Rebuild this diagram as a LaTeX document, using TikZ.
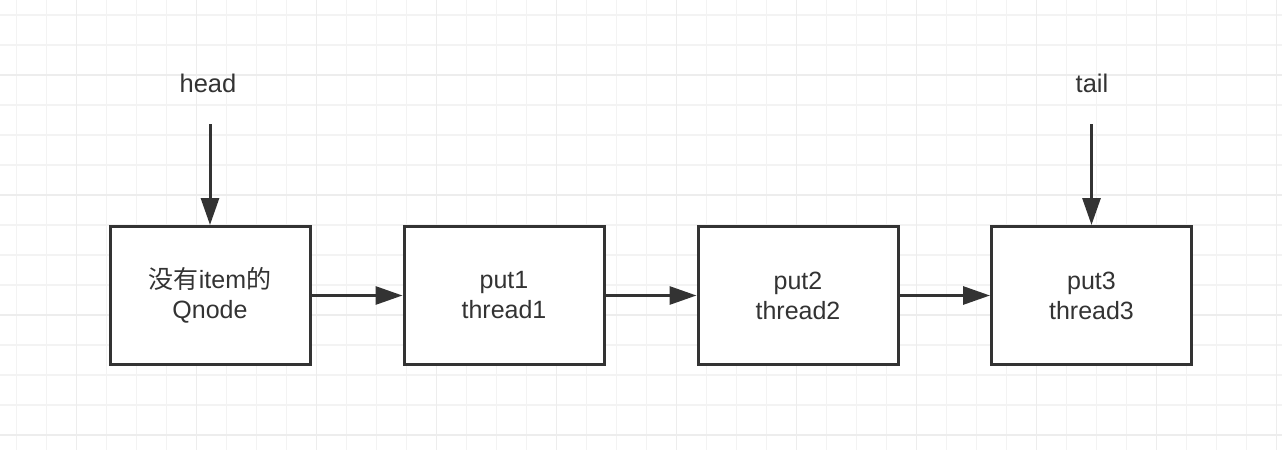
\documentclass[tikz,border=0pt]{standalone}
\usepackage{fontspec}
\setmainfont{Liberation Sans}
\newfontfamily\cjk{Noto Sans CJK SC}
\usetikzlibrary{arrows.meta}
\definecolor{ink}{HTML}{333333}
\definecolor{gminor}{HTML}{F3F3F3}
\definecolor{gmajor}{HTML}{EDEDED}
\tikzset{
  minorgrid/.style={draw=gminor, line width=1.2pt},
  majorgrid/.style={draw=gmajor, line width=1.4pt},
  qbox/.style={draw=ink, line width=3pt, fill=white, minimum width=200pt, minimum height=138pt, align=center, text=ink, font=\fontsize{25}{30}\selectfont},
  lbl/.style={text=ink, font=\fontsize{25.5}{28}\selectfont},
  arr/.style={draw=ink, line width=3pt, -{Triangle[length=27pt,width=18pt]}}
}
\begin{document}
\begin{tikzpicture}[x=1pt,y=-1pt]
\fill[white] (0,0) rectangle (1282,450);
\useasboundingbox (0,0) rectangle (1282,450);
\foreach \i in {0,...,42} \draw[minorgrid] ({16.7+30*\i},0) -- ++(0,450);
\foreach \i in {0,...,14} \draw[minorgrid] (0,{15+30*\i}) -- ++(1282,0);
\foreach \i in {0,...,10} \draw[majorgrid] ({76.7+120*\i},0) -- ++(0,450);
\foreach \i in {0,...,3} \draw[majorgrid] (0,{75+120*\i}) -- ++(1282,0);

\node[qbox] (b1) at (210,295.5) {{\cjk 没有}item{\cjk 的}\\Qnode};
\node[qbox] (b2) at (504,295.5) {put1\\thread1};
\node[qbox] (b3) at (798,295.5) {put2\\thread2};
\node[qbox] (b4) at (1091.5,295.5) {put3\\thread3};

\node[lbl] (head) at (208,83) {head};
\node[lbl] (tail) at (1092,83) {tail};
\coordinate (hs) at (210,124);
\coordinate (ts) at (1091.5,124);

\draw[arr] (hs) -- (b1.north);
\draw[arr] (ts) -- (b4.north);
\draw[arr] (b1.east) -- (b2.west);
\draw[arr] (b2.east) -- (b3.west);
\draw[arr] (b3.east) -- (b4.west);
\end{tikzpicture}
\end{document}
